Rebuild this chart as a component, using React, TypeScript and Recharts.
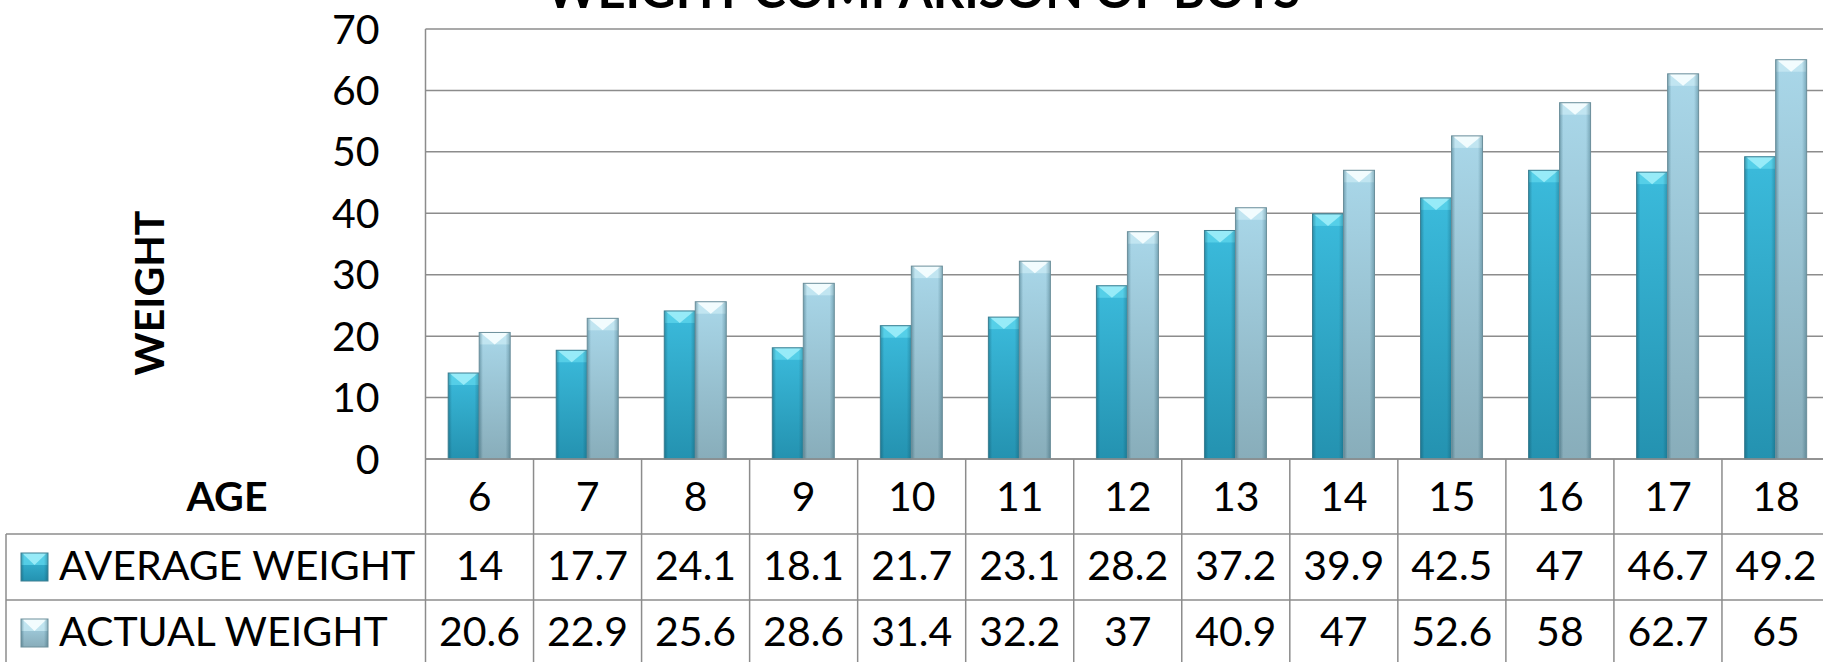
import React from 'react';
import { BarChart, Bar, XAxis, YAxis, CartesianGrid, Customized } from 'recharts';

const ages = ['6', '7', '8', '9', '10', '11', '12', '13', '14', '15', '16', '17', '18'];
const averageWeight = [14, 17.7, 24.1, 18.1, 21.7, 23.1, 28.2, 37.2, 39.9, 42.5, 47, 46.7, 49.2];
const actualWeight = [20.6, 22.9, 25.6, 28.6, 31.4, 32.2, 37, 40.9, 47, 52.6, 58, 62.7, 65];
const yTicks = [0, 10, 20, 30, 40, 50, 60, 70];
const seriesNames = ['AVERAGE WEIGHT', 'ACTUAL WEIGHT'];
const chartTitle = 'WEIGHT COMPARISON OF BOYS';
const xTitle = 'AGE';
const yTitle = 'WEIGHT';

const data = ages.map((age, i) => ({ age, avg: averageWeight[i], act: actualWeight[i] }));
const seriesValues = [averageWeight, actualWeight];

const FONT = 'Lato, "Open Sans", sans-serif';
const LINE = '#8c8c8c';
const CHART_W = 1830;
const CHART_H = 662;
const PLOT_LEFT = 425.5;
const PLOT_TOP = 29;
const XAXIS_H = 75;
const BOTTOM_MARGIN = 128;
const ROW1 = 75;
const ROW2 = 141;
const ROW3 = 207;
const TABLE_LEFT = 6;

const palettes: Record<string, any> = {
  avg: { body: 'url(#avgBody)', band: '#5ad2ea', top: '#97ebf8', stroke: '#3d7f92' },
  act: { body: 'url(#actBody)', band: '#c6e8f2', top: '#f2fcfe', stroke: '#6c8f9b' },
};

function BevelRect({ x, y, w, h, kind }: any) {
  if (!h || h <= 0 || !w) return null;
  const p = palettes[kind];
  const d = Math.min(12, h / 2);
  return (
    <g>
      <rect x={x} y={y} width={w} height={h} fill={p.body} />
      <polygon points={`${x},${y} ${x + w},${y} ${x + w},${y + d} ${x},${y + d}`} fill={p.band} opacity={0.85} />
      <polygon points={`${x + 1},${y} ${x + w - 1},${y} ${x + w / 2},${y + d}`} fill={p.top} />
      <rect x={x} y={y} width={w} height={h} fill="url(#edgeShade)" />
      <rect x={x} y={y} width={w} height={h} fill="none" stroke={p.stroke} strokeWidth={1} />
    </g>
  );
}

const makeShape = (kind: string) => (props: any) => (
  <BevelRect x={props.x} y={props.y} w={props.width} h={props.height} kind={kind} />
);

function CategoryTick(props: any) {
  const { x, y, index, payload, width, visibleTicksCount } = props;
  const n = visibleTicksCount || ages.length;
  const step = width && n ? width / n : (CHART_W - PLOT_LEFT) / ages.length;
  const right = PLOT_LEFT + (width || CHART_W - PLOT_LEFT);
  const i = index;
  return (
    <g>
      {i === 0 && (
        <g>
          <line x1={TABLE_LEFT} x2={right} y1={y + ROW1} y2={y + ROW1} stroke={LINE} strokeWidth={1.5} />
          <line x1={TABLE_LEFT} x2={right} y1={y + ROW2} y2={y + ROW2} stroke={LINE} strokeWidth={1.5} />
          <line x1={TABLE_LEFT} x2={right} y1={y + ROW3} y2={y + ROW3} stroke={LINE} strokeWidth={1.5} />
          <line x1={TABLE_LEFT} x2={TABLE_LEFT} y1={y + ROW1} y2={y + ROW3} stroke={LINE} strokeWidth={1.5} />
          <text x={227} y={y + 52} textAnchor="middle" fontFamily={FONT} fontWeight={700} fontSize={41} fill="#000">
            {xTitle}
          </text>
          {seriesNames.map((name, k) => (
            <g key={name}>
              <BevelRect x={21} y={y + 94 + k * 66} w={27} h={28} kind={k === 0 ? 'avg' : 'act'} />
              <text x={59} y={y + 121 + k * 66} fontFamily={FONT} fontSize={41} fill="#000">
                {name}
              </text>
            </g>
          ))}
        </g>
      )}
      <line x1={x - step / 2} x2={x - step / 2} y1={y} y2={y + ROW3} stroke={LINE} strokeWidth={1.5} />
      {i === n - 1 && (
        <line x1={x + step / 2} x2={x + step / 2} y1={y} y2={y + ROW3} stroke={LINE} strokeWidth={1.5} />
      )}
      <text x={x} y={y + 52} textAnchor="middle" fontFamily={FONT} fontSize={41} fill="#000">
        {payload.value}
      </text>
      {seriesValues.map((vals, k) => (
        <text key={k} x={x} y={y + 121 + k * 66} textAnchor="middle" fontFamily={FONT} fontSize={41} fill="#000">
          {String(vals[i])}
        </text>
      ))}
    </g>
  );
}

function Decorations() {
  return (
    <g>
      <defs>
        <linearGradient id="avgBody" x1="0" y1="0" x2="0" y2="1">
          <stop offset="0" stopColor="#3bbbdc" />
          <stop offset="1" stopColor="#2492b0" />
        </linearGradient>
        <linearGradient id="actBody" x1="0" y1="0" x2="0" y2="1">
          <stop offset="0" stopColor="#a9d7e9" />
          <stop offset="1" stopColor="#88adba" />
        </linearGradient>
        <linearGradient id="edgeShade" x1="0" y1="0" x2="1" y2="0">
          <stop offset="0" stopColor="#0a3a4a" stopOpacity={0.35} />
          <stop offset="0.12" stopColor="#0a3a4a" stopOpacity={0} />
          <stop offset="0.85" stopColor="#0a3a4a" stopOpacity={0} />
          <stop offset="1" stopColor="#0a3a4a" stopOpacity={0.3} />
        </linearGradient>
      </defs>
      <text x={923} y={8} textAnchor="middle" fontFamily={FONT} fontWeight={700} fontSize={49} fill="#000">
        {chartTitle}
      </text>
      <text
        transform="translate(164,293) rotate(-90)"
        x={0}
        y={0}
        textAnchor="middle"
        fontFamily={FONT}
        fontWeight={700}
        fontSize={41}
        fill="#000"
      >
        {yTitle}
      </text>
    </g>
  );
}

export default function App() {
  return (
    <div
      style={{
        position: 'fixed',
        left: 0,
        top: 0,
        width: 1823,
        height: 662,
        overflow: 'hidden',
        background: '#fff',
      }}
    >
      <BarChart
        width={CHART_W}
        height={CHART_H}
        data={data}
        margin={{ top: PLOT_TOP, right: 0, bottom: BOTTOM_MARGIN, left: 0 }}
        barCategoryGap="21%"
        barGap={0}
      >
        <Customized component={Decorations} />
        <CartesianGrid vertical={false} stroke={LINE} strokeWidth={1.5} />
        <YAxis
          width={PLOT_LEFT}
          domain={[0, 70]}
          ticks={yTicks}
          interval={0}
          tickLine={false}
          tickSize={0}
          tickMargin={46}
          axisLine={{ stroke: LINE, strokeWidth: 1.5 }}
          tick={{ fontSize: 41, fill: '#000', fontFamily: FONT }}
        />
        <XAxis
          dataKey="age"
          height={XAXIS_H}
          interval={0}
          tickLine={false}
          tickSize={0}
          tickMargin={0}
          axisLine={{ stroke: LINE, strokeWidth: 1.5 }}
          tick={<CategoryTick />}
        />
        <Bar dataKey="avg" isAnimationActive={false} shape={makeShape('avg')} />
        <Bar dataKey="act" isAnimationActive={false} shape={makeShape('act')} />
      </BarChart>
    </div>
  );
}
